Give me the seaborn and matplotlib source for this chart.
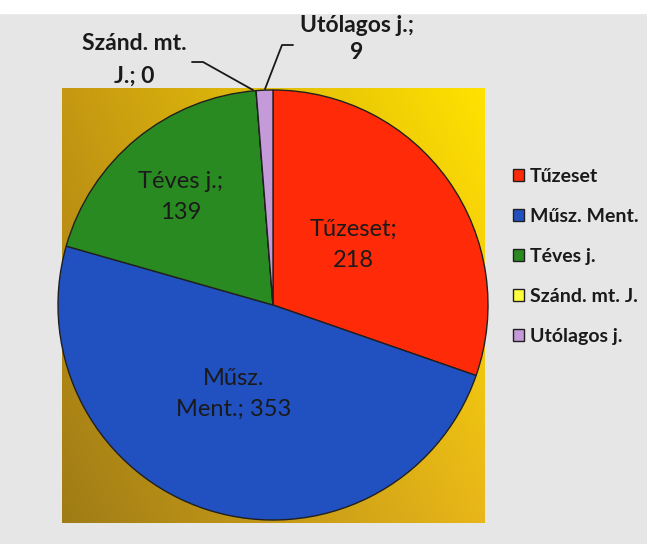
import numpy as np
import matplotlib
matplotlib.use("Agg")
import matplotlib.pyplot as plt
import seaborn as sns

# ---- data ----
categories = ["Tűzeset", "Műsz. Ment.", "Téves j.", "Szánd. mt. J.", "Utólagos j."]
values = [218, 353, 139, 0, 9]
label_texts = ["Tűzeset;\n218", "Műsz.\nMent.; 353", "Téves j.;\n139", "Szánd. mt.\nJ.; 0", "Utólagos j.;\n9"]
colors = ["#ff2a08", "#2150c0", "#2a8a22", "#ffff40", "#c49ad8"]

sns.set_style("white")
plt.rcParams['font.family'] = ['Lato', 'DejaVu Sans']

W, H = 647, 544
fig = plt.figure(figsize=(W / 100, H / 100), dpi=100)
fig.patch.set_facecolor("#e6e6e6")
ax = fig.add_axes([0, 0, 1, 1])
ax.set_xlim(0, W)
ax.set_ylim(0, H)
ax.set_axis_off()

def py(y):
    return H - y

# white strip at top of the scan
ax.axhspan(py(13), H, color="white", zorder=0)

# gold gradient plot area
nx, ny = 60, 60
gx = np.linspace(0, 1, nx)[None, :]
gy = np.linspace(0, 1, ny)[:, None]  # 0 = top, 1 = bottom
tl = np.array([198, 152, 18]) / 255
tr = np.array([255, 226, 0]) / 255
bl = np.array([160, 124, 22]) / 255
br = np.array([232, 182, 25]) / 255
img = ((1 - gx)[..., None] * (1 - gy)[..., None] * tl + gx[..., None] * (1 - gy)[..., None] * tr
       + (1 - gx)[..., None] * gy[..., None] * bl + gx[..., None] * gy[..., None] * br)
ax.imshow(img, extent=[62, 485, py(523), py(88)], aspect="auto", zorder=1,
          interpolation="bilinear")

palette = sns.color_palette(colors)
wedges, _ = ax.pie(values, colors=palette, startangle=90, counterclock=False,
                   center=(273, py(305)), radius=215, frame=True,
                   wedgeprops=dict(edgecolor="#202020", linewidth=1.0))
for w in wedges:
    w.set_zorder(2)
ax.set_xlim(0, W)
ax.set_ylim(0, H)
ax.set_axis_off()

# inside labels
inner_pos = {0: (353, 245), 1: (234, 394), 2: (181, 197)}
for i, (x, y) in inner_pos.items():
    ax.text(x, py(y), label_texts[i], ha="center", va="center", fontsize=17,
            color="#1a1a1a", linespacing=1.6, zorder=3)

# outside labels with leader lines
ax.text(134, py(60), label_texts[3], ha="center", va="center", fontsize=16.5,
        fontweight="bold", color="#1a1a1a", linespacing=1.65, zorder=3)
ax.text(357, py(39), label_texts[4], ha="center", va="center", fontsize=16.5,
        fontweight="bold", color="#1a1a1a", linespacing=1.3, zorder=3)
ax.plot([192, 203, 253], [py(62), py(62), py(90)], color="#1a1a1a", lw=1.3, zorder=3)
ax.plot([293, 282, 265], [py(45), py(45), py(89)], color="#1a1a1a", lw=1.3, zorder=3)

leg = fig.legend(wedges, categories, loc="upper left",
                 bbox_to_anchor=(513 / W, 1 - 168 / H), frameon=False,
                 prop=dict(family="Lato", weight="bold", size=14),
                 handlelength=0.55, handleheight=0.55, handletextpad=0.3,
                 labelspacing=1.18, borderpad=0, borderaxespad=0)
for t in leg.get_texts():
    t.set_color("#1a1a1a")

fig.savefig("out.png", dpi=100, facecolor=fig.get_facecolor())
